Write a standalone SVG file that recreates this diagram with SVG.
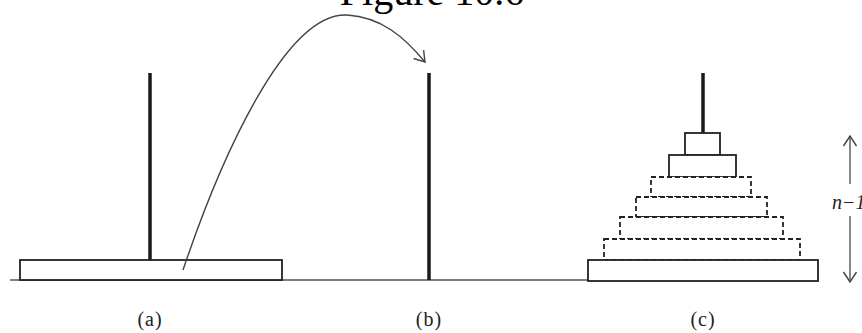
<svg xmlns="http://www.w3.org/2000/svg" width="862" height="333" viewBox="0 0 862 333">
<style>
.peg{stroke:#1a1a1a;stroke-width:3.5;fill:none}
.disk{fill:#fff;stroke:#222;stroke-width:1.8}
.dash{fill:#fff;stroke:#222;stroke-width:1.8;stroke-dasharray:5 3}
.lbl{font-family:"Liberation Serif",serif;font-size:20px;fill:#222;text-anchor:middle;letter-spacing:1px}
.conn{fill:none;stroke:#444;stroke-width:1.4}
</style>
<defs>
<marker id="open" markerWidth="16" markerHeight="16" refX="11" refY="8" orient="auto" markerUnits="userSpaceOnUse">
<path d="M1,1.5 L11,8 L1,14.5" fill="none" stroke="#444" stroke-width="1.4"/>
</marker>
</defs>
<text x="432" y="5" font-family="Liberation Serif, serif" font-size="40" text-anchor="middle" fill="#000">Figure 10.6</text>
<line x1="10" y1="280" x2="590" y2="280" stroke="#555" stroke-width="1.6"/>
<g id="peg-a">
<line class="peg" x1="150" y1="73" x2="150" y2="261"/>
<rect class="disk" x="20" y="260" width="262" height="20"/>
<text class="lbl" x="150" y="326">(a)</text>
</g>
<g id="peg-b">
<line class="peg" x1="429" y1="73" x2="429" y2="280"/>
<text class="lbl" x="429" y="326">(b)</text>
</g>
<g id="peg-c">
<line class="peg" x1="703" y1="73" x2="703" y2="134"/>
<rect class="disk" x="685" y="133" width="35" height="22"/>
<rect class="disk" x="669" y="155" width="67" height="22"/>
<rect class="dash" x="651" y="177" width="100" height="20"/>
<rect class="dash" x="636" y="197" width="131" height="20"/>
<rect class="dash" x="620" y="217" width="163" height="22"/>
<rect class="dash" x="604" y="239" width="196" height="21"/>
<rect class="disk" x="588" y="260" width="230" height="21"/>
<text class="lbl" x="703" y="326">(c)</text>
</g>
<g id="connectors">
<path class="conn" d="M183,270 C220,160 285,12 347,15 C382,17 405,38 425,62" marker-end="url(#open)"/>
<line x1="850" y1="184" x2="850" y2="136" stroke="#555" stroke-width="1.4" marker-end="url(#open)"/>
<line x1="850" y1="216" x2="850" y2="282" stroke="#555" stroke-width="1.4" marker-end="url(#open)"/>
<text x="832" y="209" font-family="Liberation Serif, serif" font-style="italic" font-size="20" fill="#222">n−1</text>
</g>
</svg>
